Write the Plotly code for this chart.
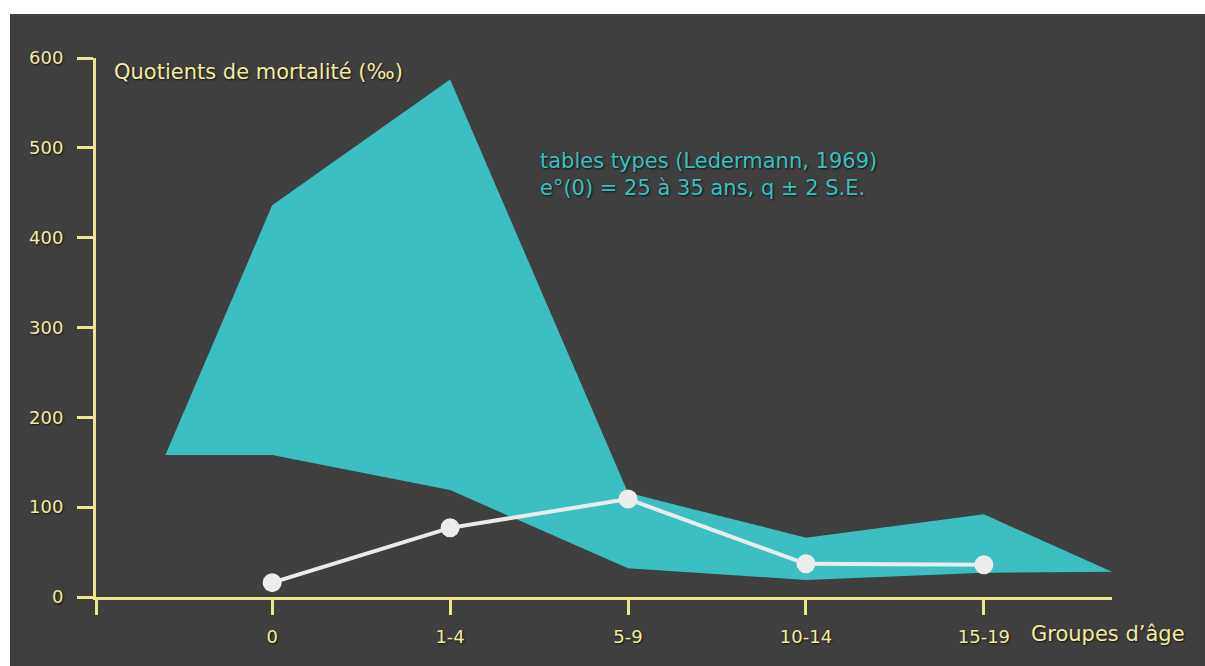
import plotly.graph_objects as go

age_groups = ["0", "1-4", "5-9", "10-14", "15-19"]
age_pos = [0, 1, 2, 3, 4]
observed_q = [16, 77, 109, 37, 36]

# band of model life tables (Ledermann), upper and lower bounds
band_x = [-0.6, 0, 1, 2, 3, 4, 4.72]
band_upper = [158, 436, 576, 116, 66, 92, 28]
band_lower = [158, 158, 119, 32, 19, 27, 28]

yellow = "#efe58e"
text_yellow = "#f3eba0"
teal = "#3bbfc1"
bg = "#3f3f3f"
font_family = "DejaVu Sans"
shadow = "1px 1px 2px #111"

fig = go.Figure()
fig.add_trace(go.Scatter(
    x=band_x + band_x[::-1], y=band_upper + band_lower[::-1],
    fill="toself", fillcolor=teal, line=dict(width=0), mode="lines",
    hoverinfo="skip", showlegend=False))
fig.add_trace(go.Scatter(
    x=age_pos, y=observed_q, mode="lines+markers",
    line=dict(color="#ebebeb", width=4),
    marker=dict(size=19, color="#ececec"), showlegend=False))

W, H = 1205, 666
l, r, t, b = 96, 1205 - 1112, 58, 666 - 597
pw, ph = W - l - r, H - t - b


def px(xp):
    return (xp - l) / pw


def py(yp):
    return (H - b - yp) / ph


# white strips along the top and left edges
fig.add_shape(type="rect", xref="paper", yref="paper", layer="below",
              x0=px(-5), x1=px(1215), y0=py(14), y1=py(-5),
              fillcolor="white", line=dict(width=0))
fig.add_shape(type="rect", xref="paper", yref="paper", layer="below",
              x0=px(-5), x1=px(10), y0=py(680), y1=py(-5),
              fillcolor="white", line=dict(width=0))

fig.add_annotation(x=px(112), y=py(72), xref="paper", yref="paper",
                   text="Quotients de mortalité (‰)", showarrow=False,
                   xanchor="left", yanchor="middle",
                   font=dict(size=21, color=text_yellow, family=font_family, shadow=shadow))
fig.add_annotation(x=px(1029), y=py(634), xref="paper", yref="paper",
                   text="Groupes d’âge", showarrow=False,
                   xanchor="left", yanchor="middle",
                   font=dict(size=21, color=text_yellow, family=font_family, shadow=shadow))
fig.add_annotation(x=px(538), y=py(174), xref="paper", yref="paper",
                   text="tables types (Ledermann, 1969)<br>e°(0) = 25 à 35 ans, q ± 2 S.E.",
                   showarrow=False, xanchor="left", yanchor="middle", align="left",
                   font=dict(size=21, color=teal, family=font_family, shadow=shadow))

fig.update_layout(
    width=W, height=H, margin=dict(l=l, r=r, t=t, b=b),
    paper_bgcolor=bg, plot_bgcolor="rgba(0,0,0,0)",
    font=dict(family=font_family, color=text_yellow, shadow=shadow),
    xaxis=dict(range=[-0.99, 4.72], tickvals=[-0.989] + age_pos, ticktext=[""] + age_groups,
               showgrid=False, zeroline=False, showline=True, linecolor=yellow, linewidth=3,
               ticks="outside", ticklen=15, tickwidth=3, tickcolor=yellow,
               ticklabelstandoff=6,
               tickfont=dict(size=18, color=text_yellow), fixedrange=True),
    yaxis=dict(range=[0, 600], tickvals=[0, 100, 200, 300, 400, 500, 600],
               showgrid=False, zeroline=False, showline=True, linecolor=yellow, linewidth=3,
               ticks="outside", ticklen=16, tickwidth=3, tickcolor=yellow,
               ticklabelstandoff=10,
               tickfont=dict(size=18, color=text_yellow), fixedrange=True),
)

# drop the default page margin so the figure fills the window
fig.write_html("out.html", config={"displayModeBar": False},
               post_script="document.body.style.margin='0';"
                           "document.body.style.overflow='hidden';"
                           "document.body.style.background='#3f3f3f';"
                           "document.documentElement.style.background='#3f3f3f';")
